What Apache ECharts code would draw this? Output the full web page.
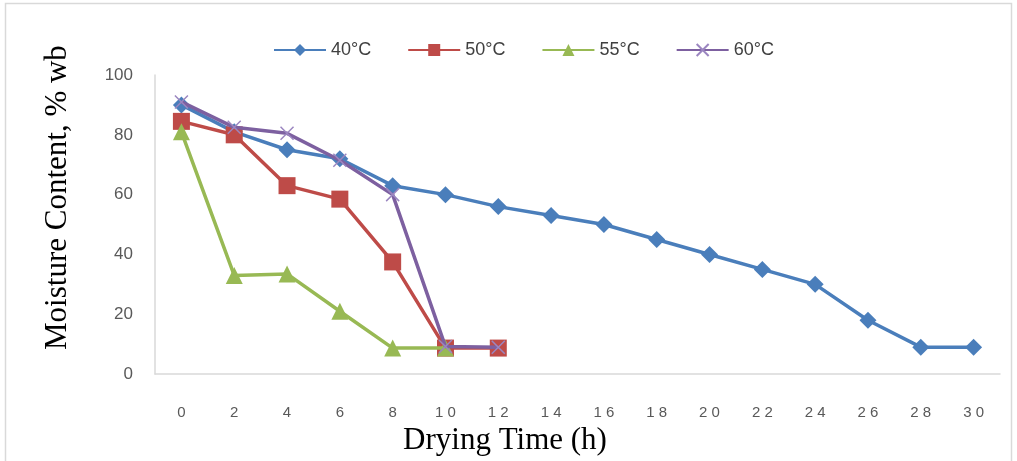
<!DOCTYPE html>
<html><head><meta charset="utf-8">
<script src="https://cdn.jsdelivr.net/npm/echarts@6/dist/echarts.min.js"></script>
<style>html,body{margin:0;padding:0;background:#fff}#c{width:1017px;height:461px}</style>
</head><body><div id="c"></div>
<script>
const hours = ['0','2','4','6','8','10','12','14','16','18','20','22','24','26','28','30'];
const mc40 = [90, 81, 75, 72, 63, 60, 56, 53, 50, 45, 40, 35, 30, 18, 9, 9];
const mc50 = [84.5, 80, 63, 58.5, 37.5, 8.7, 8.7];
const mc55 = [81, 33, 33.5, 21, 8.7, 8.7];
const mc60 = [91, 82.5, 80.5, 71.5, 60, 9.2, 9];
const seriesNames = ['40°C', '50°C', '55°C', '60°C'];
const colors = ['#4A7EBB', '#BE4B48', '#98B954', '#7D60A0'];

const chart = echarts.init(document.getElementById('c'));
const crossPath = 'path://M0,0L10,10M10,0L0,10';
chart.setOption({
  animation: false,
  color: colors,
  graphic: [{
    type: 'rect', shape: {x: 5.5, y: 3.5, width: 1006, height: 470},
    style: {fill: 'none', stroke: '#d9d9d9', lineWidth: 1.5}, z: -1
  }],
  legend: {
    top: 36, left: 268, itemGap: 36, itemWidth: 52, itemHeight: 15,
    textStyle: {fontFamily: 'Liberation Sans', fontSize: 18, color: '#404040'},
    data: seriesNames
  },
  grid: {left: 155, right: 17, top: 75, bottom: 83},
  xAxis: {
    type: 'category', data: hours, boundaryGap: true,
    name: 'Drying Time (h)', nameLocation: 'middle', nameGap: 37,
    nameTextStyle: {fontFamily: 'Liberation Serif', fontSize: 31, color: '#000', padding: [0, 145, 0, 0]},
    axisLine: {lineStyle: {color: '#d9d9d9', width: 1.5}},
    axisTick: {show: false},
    axisLabel: {margin: 31, fontFamily: 'Liberation Sans', fontSize: 15, color: '#595959',
      formatter: v => v.split('').join(' ')}
  },
  yAxis: {
    type: 'value', min: 0, max: 100, interval: 20,
    name: 'Moisture Content, % wb', nameLocation: 'middle', nameGap: 82, nameRotate: 90,
    nameTextStyle: {fontFamily: 'Liberation Serif', fontSize: 31, color: '#000', padding: [0, 0, 0, 54]},
    axisLine: {show: true, lineStyle: {color: '#d9d9d9', width: 1.5}},
    axisTick: {show: false},
    splitLine: {show: false},
    axisLabel: {margin: 22, fontFamily: 'Liberation Sans', fontSize: 17, color: '#595959'}
  },
  series: [
    {name: seriesNames[0], type: 'line', data: mc40, symbol: 'diamond', symbolSize: 17,
     lineStyle: {width: 3.5}, z: 2},
    {name: seriesNames[1], type: 'line', data: mc50, symbol: 'rect', symbolSize: 17,
     lineStyle: {width: 3.5}, z: 3},
    {name: seriesNames[2], type: 'line', data: mc55, symbol: 'triangle', symbolSize: 17,
     lineStyle: {width: 3.5}, z: 4},
    {name: seriesNames[3], type: 'line', data: mc60, symbol: crossPath, symbolSize: 13,
     lineStyle: {width: 3.5, color: colors[3]},
     itemStyle: {color: '#9b86c0', borderColor: '#9b86c0', borderWidth: 1.5}, z: 5}
  ]
});
</script></body></html>
